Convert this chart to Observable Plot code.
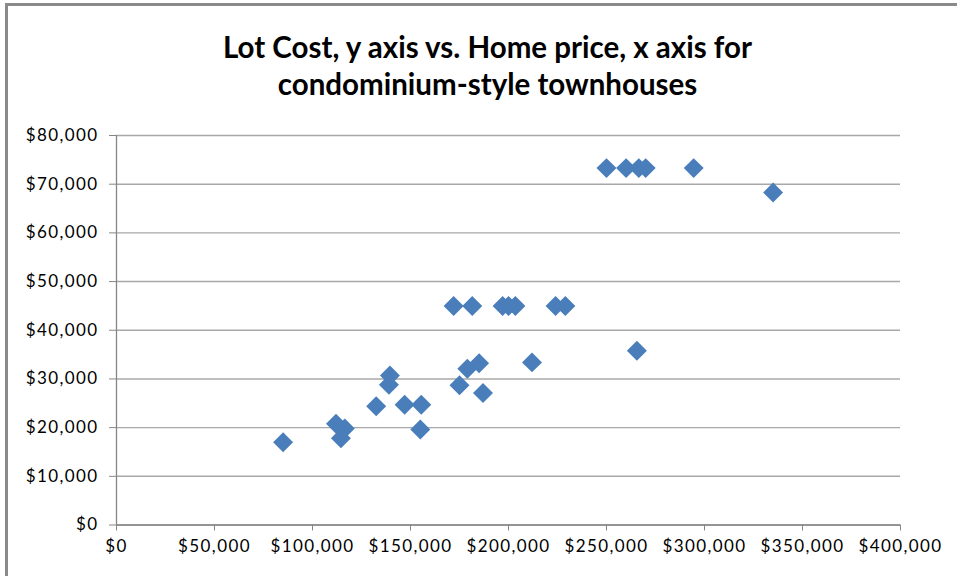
<!DOCTYPE html>
<html>
<head>
<meta charset="utf-8">
<script src="https://cdn.jsdelivr.net/npm/d3@7"></script>
<script src="https://cdn.jsdelivr.net/npm/@observablehq/plot@0.6"></script>
<style>
  html, body { margin: 0; padding: 0; background: #fff; }
  #wrap { position: relative; width: 957px; height: 576px; overflow: hidden; background: #fff; }
  #chart { position: absolute; left: 0; top: 0; }
  #title { position: absolute; left: 0; top: 28px; width: 975px; text-align: center;
           font-family: Lato, "Open Sans", sans-serif; font-weight: 700; font-size: 29.5px;
           line-height: 37px; color: #000; }
  .bl { position: absolute; left: 5px; top: 3px; width: 3px; height: 600px; background: #8a8a8a; }
  .bt { position: absolute; left: 5px; top: 3px; width: 960px; height: 3px; background: #8a8a8a; }
</style>
</head>
<body>
<div id="wrap">
  <div id="chart"></div>
  <div class="bl"></div>
  <div class="bt"></div>
  <div id="title">Lot Cost, y axis vs. Home price, x axis for<br>condominium-style townhouses</div>
</div>
<script>
// Home price (x) and lot cost (y)
const homePrice = [85000, 112000, 116500, 114500, 132500, 139500, 139000, 147000, 155500, 155000,
                   175000, 179000, 185000, 187000, 172000, 181500, 197000, 200000, 203500, 224000,
                   229000, 212000, 265500, 250000, 260000, 266500, 270000, 294500, 335000];
const lotCost   = [17000, 20800, 19800, 17800, 24400, 30700, 28800, 24700, 24700, 19600,
                   28700, 32100, 33200, 27100, 45000, 45000, 45000, 45000, 45000, 45000,
                   45000, 33400, 35800, 73300, 73300, 73300, 73300, 73300, 68300];
const xTicks = [0, 50000, 100000, 150000, 200000, 250000, 300000, 350000, 400000];
const yTicks = [0, 10000, 20000, 30000, 40000, 50000, 60000, 70000, 80000];

const points = homePrice.map((x, i) => ({x, y: lotCost[i]}));
const money = d => "$" + d3.format(",")(d);
const axisColor = "#868686";
const fontStyle = {fontFamily: "Lato, sans-serif", fontSize: 17, fill: "#000"};

const chart = Plot.plot({
  width: 957,
  height: 576,
  marginLeft: 116,
  marginRight: 57,
  marginTop: 135,
  marginBottom: 51.5,
  style: {fontFamily: "Lato, sans-serif", fontSize: "17px", letterSpacing: "1.4px", background: "transparent"},
  x: {domain: [0, 400000]},
  y: {domain: [0, 80000]},
  marks: [
    Plot.gridY(yTicks, {stroke: "#a8a8a8", strokeOpacity: 1, strokeWidth: 1.4}),
    Plot.ruleX([0], {stroke: axisColor, strokeWidth: 1.3}),
    Plot.ruleY([0], {stroke: axisColor, strokeWidth: 1.3}),
    Plot.axisX(xTicks, {tickFormat: money, tickSize: 6, tickPadding: 9, stroke: axisColor, label: null, ...fontStyle}),
    Plot.axisY(yTicks, {tickFormat: money, tickSize: 7, tickPadding: 11, stroke: axisColor, label: null, ...fontStyle}),
    Plot.dot(points, {x: "x", y: "y", symbol: "diamond2", r: 9, fill: "#4a7ebb", stroke: "none"})
  ]
});
document.getElementById("chart").appendChild(chart);
</script>
</body>
</html>
